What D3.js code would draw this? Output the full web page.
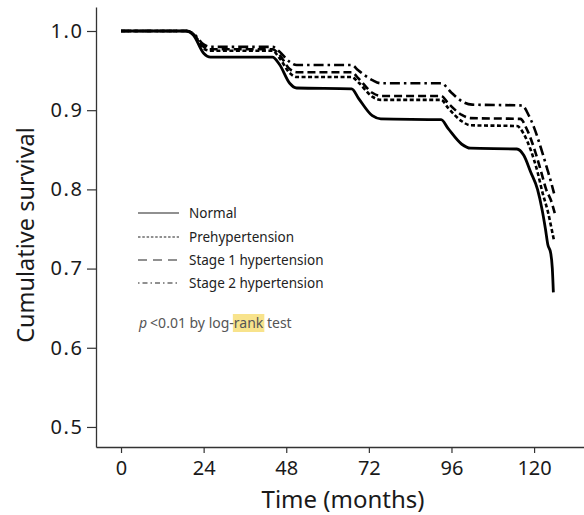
<!DOCTYPE html>
<html>
<head>
<meta charset="utf-8">
<script src="https://cdn.jsdelivr.net/npm/d3@7"></script>
<style>
  html, body { margin: 0; padding: 0; background: #fff; }
  svg { display: block; font-family: "Noto Sans", "Open Sans", sans-serif; }
</style>
</head>
<body>
<svg id="chart" width="584" height="515"></svg>
<script>
// Kaplan–Meier survival by blood-pressure group: [month, cumulative survival]
const normal = [
  [0, 1], [19, 1], [21, 0.995], [24, 0.972], [26, 0.967], [44, 0.967], [46, 0.958],
  [49, 0.934], [51, 0.928], [67, 0.927], [69, 0.915], [73, 0.893], [75.5, 0.889],
  [93, 0.888], [95, 0.877], [99, 0.857], [101.5, 0.852], [115, 0.851], [117, 0.843],
  [119, 0.822], [121, 0.80], [122.3, 0.775], [123.3, 0.75], [124, 0.73],
  [124.8, 0.72], [125.3, 0.70], [125.6, 0.67]
];
const prehypertension = [
  [0, 1], [19, 1], [21, 0.996], [24, 0.978], [26, 0.975], [44, 0.975], [46, 0.966],
  [49, 0.947], [51, 0.942], [67, 0.942], [69, 0.935], [73, 0.917], [75.5, 0.913],
  [93, 0.913], [95, 0.903], [99, 0.886], [101.5, 0.881], [115, 0.880], [117, 0.870],
  [119, 0.850], [121, 0.822], [122.5, 0.795], [124, 0.772], [125, 0.752], [125.8, 0.735]
];
const stage1 = [
  [0, 1], [19, 1], [21, 0.996], [24, 0.980], [26, 0.977], [44, 0.977], [46, 0.970],
  [49, 0.952], [51, 0.948], [67, 0.948], [69, 0.940], [73, 0.922], [75.5, 0.918],
  [93, 0.918], [95, 0.909], [99, 0.894], [101.5, 0.890], [116, 0.889], [118, 0.875],
  [120, 0.852], [122, 0.823], [123.5, 0.800], [125, 0.785], [126, 0.770]
];
const stage2 = [
  [0, 1], [19, 1], [21, 0.997], [24, 0.983], [26, 0.980], [44, 0.980], [46, 0.974],
  [49, 0.961], [51, 0.957], [67, 0.957], [69, 0.950], [73, 0.938], [75.5, 0.934],
  [93, 0.934], [96, 0.922], [99.5, 0.910], [102, 0.907], [116.5, 0.906], [118.5, 0.893],
  [120, 0.878], [122, 0.852], [123.8, 0.826], [125, 0.808], [125.8, 0.795]
];

const groupNames = ["Normal", "Prehypertension", "Stage 1 hypertension", "Stage 2 hypertension"];
const groupData = [normal, prehypertension, stage1, stage2];
const groupDash = [null, "4,2.5", "8,4", "10,4,2.5,4"];
const legendDash = [null, "2.5,1.8", "9,6", "1.5,3,5,3"];

const xTicks = [0, 24, 48, 72, 96, 120];
const yTicks = [0.5, 0.6, 0.7, 0.8, 0.9, 1.0];

const svg = d3.select("#chart");

const x = d3.scaleLinear().domain([-7.27, 134.5]).range([96, 584]);
const y = d3.scaleLinear().domain([0.4747, 1.0303]).range([447, 7]);

// axes
const xAxis = svg.append("g")
  .attr("transform", `translate(0,${y.range()[0]})`)
  .call(d3.axisBottom(x).tickValues(xTicks).tickFormat(d3.format("d"))
    .tickSize(6).tickPadding(8).tickSizeOuter(0));
const yAxis = svg.append("g")
  .attr("transform", `translate(${x.range()[0]},0)`)
  .call(d3.axisLeft(y).tickValues(yTicks).tickFormat(d3.format(".1f"))
    .tickSize(9).tickPadding(5).tickSizeOuter(0));

[xAxis, yAxis].forEach(g => {
  g.select(".domain").attr("stroke", "#333").attr("stroke-width", 1.3);
  g.selectAll(".tick line").attr("stroke", "#333").attr("stroke-width", 1.2);
  g.selectAll(".tick text").attr("fill", "#1a1a1a").attr("font-size", 20)
    .attr("font-family", "'Noto Sans', sans-serif");
});
yAxis.selectAll(".tick text").attr("letter-spacing", "1.6px").attr("dx", "1.6");

// axis titles
svg.append("text")
  .attr("x", 343).attr("y", 507.5)
  .attr("text-anchor", "middle")
  .attr("font-size", 24).attr("fill", "#1a1a1a")
  .text("Time (months)");
svg.append("text")
  .attr("transform", "translate(34,235) rotate(-90)")
  .attr("text-anchor", "middle")
  .attr("font-size", 23.5).attr("fill", "#1a1a1a")
  .text("Cumulative survival");

// survival curves
const line = d3.line()
  .x(d => x(d[0]))
  .y(d => y(d[1]))
  .curve(d3.curveMonotoneX);

svg.append("g").selectAll("path")
  .data(groupData)
  .join("path")
  .attr("d", line)
  .attr("fill", "none")
  .attr("stroke", "#000")
  .attr("stroke-width", (d, i) => i === 0 ? 2.8 : 2.6)
  .attr("stroke-dasharray", (d, i) => groupDash[i]);

// legend
const legend = svg.append("g");
const legendY = [213, 237, 260, 283];
groupNames.forEach((name, i) => {
  legend.append("line")
    .attr("x1", 138).attr("x2", 179)
    .attr("y1", legendY[i]).attr("y2", legendY[i])
    .attr("stroke", "#222").attr("stroke-width", 1.1)
    .attr("stroke-dasharray", legendDash[i]);
  legend.append("text")
    .attr("x", 189).attr("y", legendY[i])
    .attr("dy", "0.35em")
    .attr("font-size", 13.5).attr("fill", "#222")
    .text(name);
});

// log-rank note
const note = svg.append("g");
const highlight = note.append("rect").attr("fill", "#f8e38c");
const noteText = note.append("text")
  .attr("x", 139).attr("y", 323).attr("dy", "0.35em")
  .attr("font-size", 14).attr("fill", "#555");
noteText.append("tspan").attr("font-style", "italic").text("p");
noteText.append("tspan").attr("dx", 3).text("<0.01 by log-");
const rankSpan = noteText.append("tspan").text("rank");
noteText.append("tspan").text(" test");
const nb = rankSpan.node();
const start = nb.getStartPositionOfChar(0).x;
const end = nb.getEndPositionOfChar(3).x;
highlight.attr("x", start - 1).attr("width", end - start + 2)
  .attr("y", 314).attr("height", 18);
</script>
</body>
</html>
